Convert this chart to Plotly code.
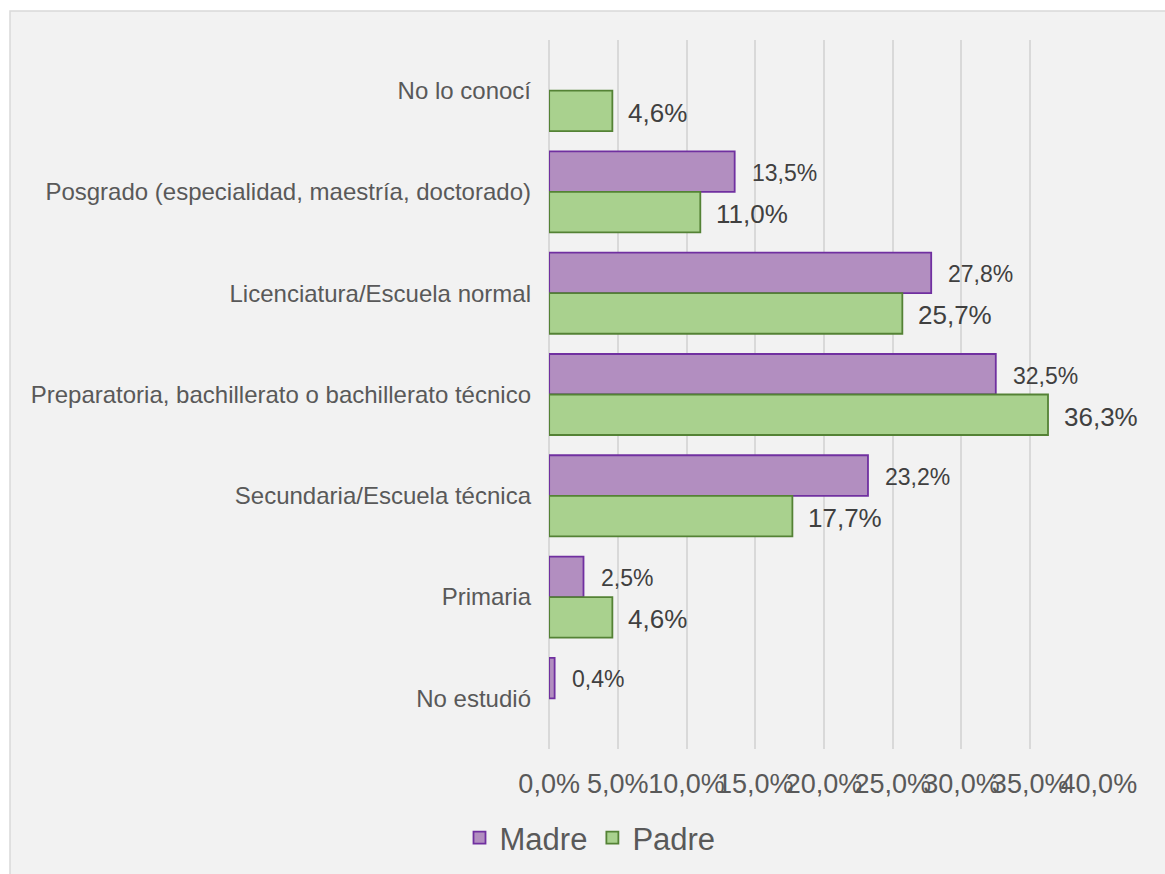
import plotly.graph_objects as go

categories = [
    "No lo conocí",
    "Posgrado (especialidad, maestría, doctorado)",
    "Licenciatura/Escuela normal",
    "Preparatoria, bachillerato o bachillerato técnico",
    "Secundaria/Escuela técnica",
    "Primaria",
    "No estudió",
]
madre = [None, 13.5, 27.8, 32.5, 23.2, 2.5, 0.4]
padre = [4.6, 11.0, 25.7, 36.3, 17.7, 4.6, None]
tick_vals = [0, 5, 10, 15, 20, 25, 30, 35, 40]
tick_text = ["0,0%", "5,0%", "10,0%", "15,0%", "20,0%", "25,0%", "30,0%", "35,0%", "40,0%"]

FONT = "Liberation Sans, Arial, sans-serif"

def fmt(v):
    return f"{v:.1f}".replace(".", ",") + "%"

fig = go.Figure()
fig.add_trace(go.Bar(
    name="Madre", y=categories, x=madre, orientation="h",
    marker=dict(color="#b28ec0", line=dict(color="#7030a0", width=1.8)),
))
fig.add_trace(go.Bar(
    name="Padre", y=categories, x=padre, orientation="h",
    marker=dict(color="#a9d18e", line=dict(color="#548235", width=1.8)),
))

annotations = []
for c, v in zip(categories, madre):
    if v is None:
        continue
    annotations.append(dict(x=v, y=c, xref="x", yref="y", text=fmt(v), showarrow=False,
                            xanchor="left", yanchor="middle", xshift=15, yshift=19,
                            font=dict(family=FONT, size=23, color="#404040")))
for c, v in zip(categories, padre):
    if v is None:
        continue
    annotations.append(dict(x=v, y=c, xref="x", yref="y", text=fmt(v), showarrow=False,
                            xanchor="left", yanchor="middle", xshift=14, yshift=-22,
                            font=dict(family=FONT, size=26, color="#404040")))

ML, MR, MT, MB = 549, 66, 40, 125
W, H = 1165, 874
pw = W - ML - MR
ph = H - MT - MB

fig.update_layout(
    width=W, height=H,
    margin=dict(l=ML, r=MR, t=MT, b=MB, autoexpand=False),
    paper_bgcolor="white",
    plot_bgcolor="rgba(0,0,0,0)",
    barmode="group",
    bargap=0.2,
    bargroupgap=0,
    font=dict(family=FONT, color="#595959"),
    xaxis=dict(range=[-0.01, 40.01], tickvals=tick_vals, ticktext=tick_text,
               showgrid=True, gridcolor="#d9d9d9", gridwidth=1.5,
               zeroline=True, zerolinecolor="#d9d9d9", zerolinewidth=1.5,
               showline=False, ticks="", tickangle=0,
               ticklabelstandoff=16,
               tickfont=dict(family=FONT, size=27, color="#595959")),
    yaxis=dict(autorange="reversed", showgrid=False, zeroline=False, showline=False,
               ticks="", ticklabelstandoff=17,
               tickfont=dict(family=FONT, size=24, color="#595959")),
    legend=dict(orientation="h", xref="container", yref="container",
                x=590 / W, y=1 - 838 / H, xanchor="center", yanchor="middle",
                font=dict(family=FONT, size=31, color="#595959"),
                bgcolor="rgba(0,0,0,0)", itemclick=False),
    annotations=annotations,
    shapes=[dict(type="rect", xref="paper", yref="paper", layer="below",
                 x0=(10 - ML) / pw, x1=(W + 10 - ML) / pw,
                 y0=-(H + 10 - MT - ph) / ph, y1=(MT + ph - 11) / ph,
                 fillcolor="#f2f2f2", line=dict(color="#d9d9d9", width=1.5))],
)

fig.write_html("out.html")
